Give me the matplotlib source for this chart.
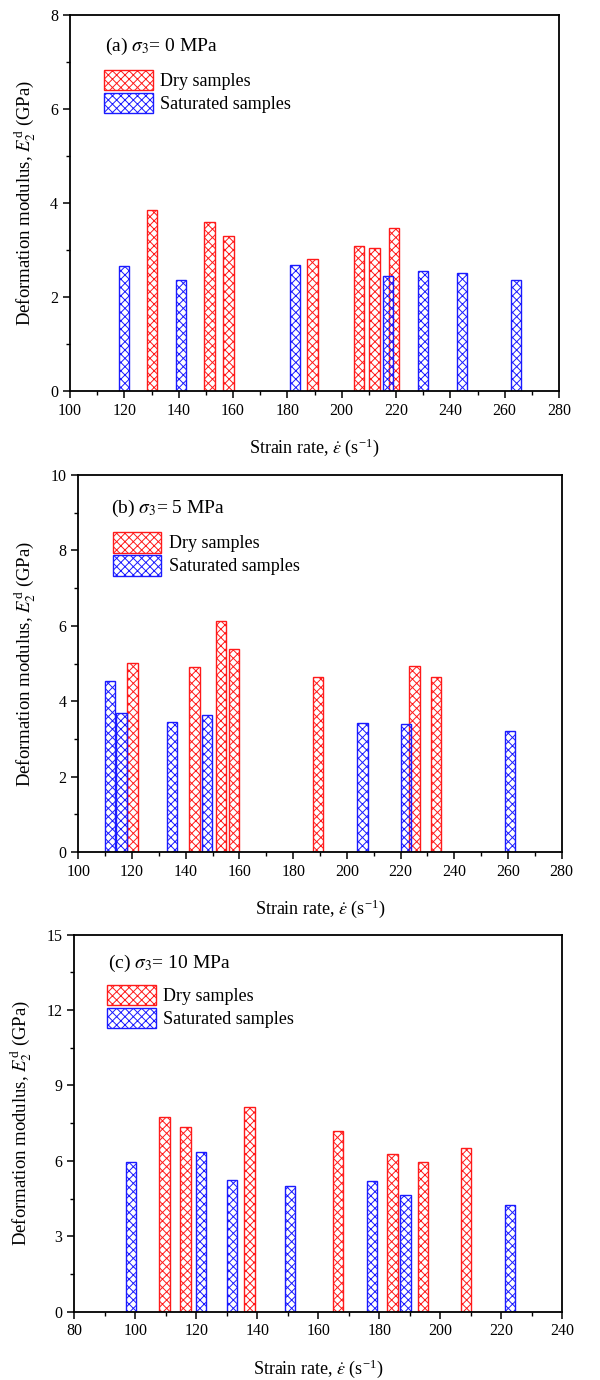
import matplotlib
matplotlib.use("Agg")
import matplotlib.pyplot as plt
from matplotlib.ticker import MultipleLocator

plt.rcParams["font.family"] = ["Liberation Serif", "DejaVu Serif"]
plt.rcParams["mathtext.fontset"] = "stix"
plt.rcParams["hatch.linewidth"] = 0.7

# (a) sigma3 = 0 MPa
rate_dry_a = [130.1, 151.3, 158.3, 189.2, 206.4, 212.1, 219.3]
mod_dry_a = [3.84, 3.59, 3.30, 2.81, 3.09, 3.05, 3.47]
rate_sat_a = [119.9, 140.8, 182.9, 217.0, 230.0, 244.2, 264.1]
mod_sat_a = [2.65, 2.36, 2.69, 2.44, 2.56, 2.50, 2.37]

# (b) sigma3 = 5 MPa
rate_dry_b = [120.1, 143.2, 153.1, 158.0, 189.3, 225.1, 233.1]
mod_dry_b = [5.02, 4.92, 6.13, 5.38, 4.64, 4.94, 4.64]
rate_sat_b = [111.9, 116.0, 134.9, 147.9, 205.9, 222.0, 260.8]
mod_sat_b = [4.54, 3.69, 3.44, 3.64, 3.43, 3.40, 3.20]

# (c) sigma3 = 10 MPa
rate_dry_c = [109.6, 116.5, 137.4, 166.4, 184.3, 194.3, 208.4]
mod_dry_c = [7.76, 7.33, 8.16, 7.20, 6.26, 5.97, 6.50]
rate_sat_c = [98.7, 121.6, 131.7, 150.8, 177.7, 188.6, 222.9]
mod_sat_c = [5.97, 6.34, 5.23, 5.00, 5.20, 4.63, 4.26]

panels = [
    dict(title=r"(a) $\sigma_3$= 0 MPa", dry=(rate_dry_a, mod_dry_a), sat=(rate_sat_a, mod_sat_a),
         rect=[0.1167, 0.7167, 0.815, 0.2725], xlim=(100, 280), ylim=(0, 8),
         ymaj=2, ymin=1, width=3.8, title_xy=(0.072, 0.915), leg_xy=(0.0695, 0.854)),
    dict(title=r"(b) $\sigma_3$= 5 MPa", dry=(rate_dry_b, mod_dry_b), sat=(rate_sat_b, mod_sat_b),
         rect=[0.1305, 0.3826, 0.8057, 0.2732], xlim=(100, 280), ylim=(0, 10),
         ymaj=2, ymin=1, width=3.9, title_xy=(0.067, 0.911), leg_xy=(0.071, 0.848)),
    dict(title=r"(c) $\sigma_3$= 10 MPa", dry=(rate_dry_c, mod_dry_c), sat=(rate_sat_c, mod_sat_c),
         rect=[0.1238, 0.0495, 0.8133, 0.2732], xlim=(80, 240), ylim=(0, 15),
         ymaj=3, ymin=1.5, width=3.4, title_xy=(0.070, 0.924), leg_xy=(0.068, 0.866)),
]

fig = plt.figure(figsize=(6, 13.8), dpi=100)

for p in panels:
    ax = fig.add_axes(p["rect"])
    ax.bar(p["dry"][0], p["dry"][1], width=p["width"], facecolor="white",
           edgecolor="#ff1a1a", hatch="xxxx", linewidth=1.0, label="Dry samples")
    ax.bar(p["sat"][0], p["sat"][1], width=p["width"], facecolor="none",
           edgecolor="#1a1aff", hatch="xxxx", linewidth=1.0, label="Saturated samples")

    ax.set_xlim(*p["xlim"])
    ax.set_ylim(*p["ylim"])
    ax.xaxis.set_major_locator(MultipleLocator(20))
    ax.xaxis.set_minor_locator(MultipleLocator(10))
    ax.yaxis.set_major_locator(MultipleLocator(p["ymaj"]))
    ax.yaxis.set_minor_locator(MultipleLocator(p["ymin"]))
    ax.tick_params(which="both", direction="out", top=False, right=False, labelsize=11.5)
    ax.tick_params(which="major", length=5, width=1.1)
    ax.tick_params(which="minor", length=3, width=1.0)
    for s in ax.spines.values():
        s.set_linewidth(1.3)

    ax.set_xlabel(r"Strain rate, $\dot{\varepsilon}$ (s$^{\mathregular{-1}}$)", fontsize=13, labelpad=13)
    ax.set_ylabel(r"Deformation modulus, $E_2^{\mathregular{d}}$ (GPa)", fontsize=13.5, labelpad=9)

    ax.text(p["title_xy"][0], p["title_xy"][1], p["title"], transform=ax.transAxes,
            fontsize=14, ha="left", va="center")
    ax.legend(loc="upper left", bbox_to_anchor=p["leg_xy"], frameon=False, fontsize=13,
              borderpad=0, borderaxespad=0, handlelength=2.7, handleheight=1.35,
              handletextpad=0.4, labelspacing=0.15)

fig.savefig("out.png", dpi=100)
plt.close(fig)
